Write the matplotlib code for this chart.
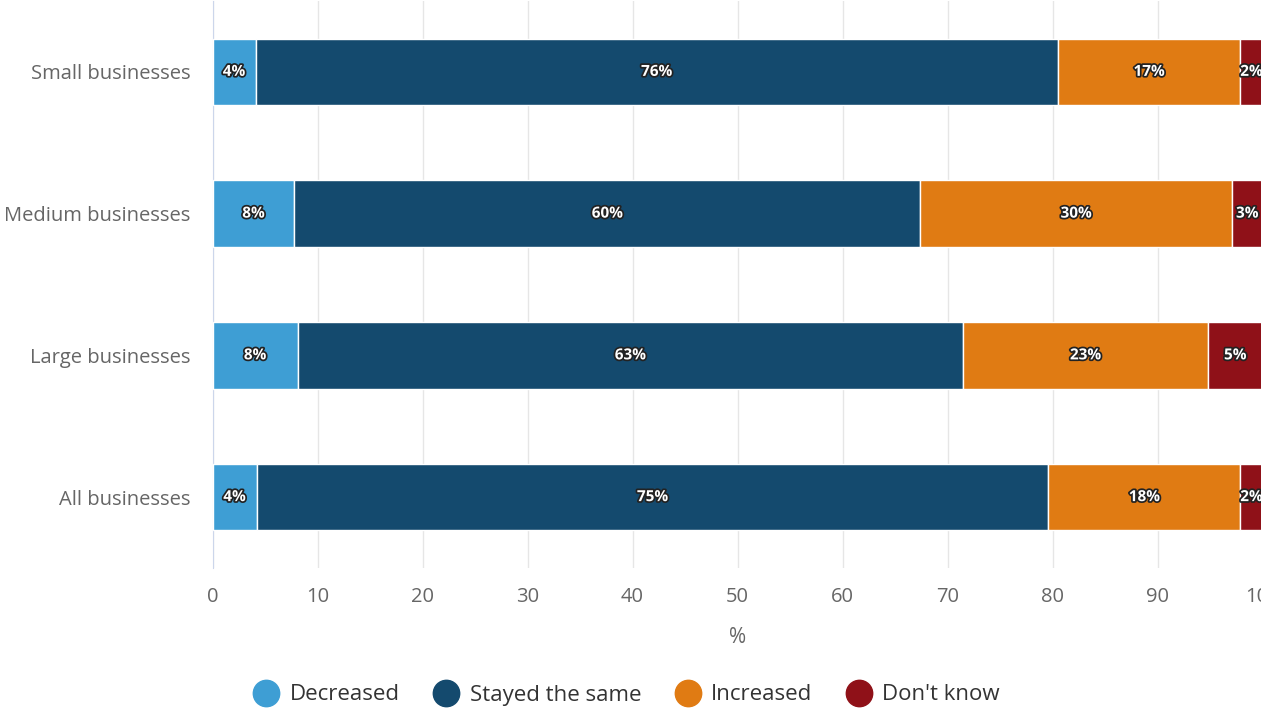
import matplotlib.pyplot as plt
import matplotlib.patheffects as pe
from matplotlib.lines import Line2D
import numpy as np

plt.rcParams['font.family'] = ['Open Sans', 'DejaVu Sans']

categories = ['Small businesses', 'Medium businesses', 'Large businesses', 'All businesses']
series = ['Decreased', 'Stayed the same', 'Increased', "Don't know"]
decreased = [4.1, 7.8, 8.1, 4.2]
stayed = [76.4, 59.6, 63.4, 75.4]
increased = [17.4, 29.7, 23.3, 18.3]
dont_know = [2.1, 2.9, 5.2, 2.1]
colors = ['#3e9ed4', '#144a6e', '#e07b13', '#8f1118']
xticks = [0, 10, 20, 30, 40, 50, 60, 70, 80, 90, 100]

values = [decreased, stayed, increased, dont_know]

fig = plt.figure(figsize=(12.61, 7.11), dpi=100)
ax = fig.add_axes([212.5 / 1261, 1 - 568 / 711, 1050 / 1261, 567 / 711])

y = np.arange(len(categories))
left = np.zeros(len(categories))
for name, vals, col in zip(series, values, colors):
    vals = np.array(vals)
    ax.barh(y, vals, left=left, height=0.47, color=col, edgecolor='white',
            linewidth=1, zorder=3)
    for yi, l, v in zip(y, left, vals):
        ax.text(l + v / 2, yi, f'{round(v)}%', ha='center', va='center',
                color='white', fontsize=11, fontweight='bold', zorder=5,
                path_effects=[pe.withStroke(linewidth=2.5, foreground='#222222')])
    left = left + vals

ax.set_xlim(0, 100)
ax.set_ylim(len(categories) - 0.5, -0.5)
ax.set_yticks(y)
ax.set_yticklabels(categories)
ax.set_xticks(xticks)
ax.tick_params(axis='both', length=0, colors='#666666', labelsize=14.5)
ax.tick_params(axis='x', pad=14)
ax.tick_params(axis='y', pad=16)
for lbl in ax.get_xticklabels() + ax.get_yticklabels():
    lbl.set_color('#666666')
ax.grid(axis='x', color='#e6e6e6', linewidth=1, zorder=0)
for s in ['top', 'right', 'bottom']:
    ax.spines[s].set_visible(False)
ax.spines['left'].set_color('#ccd6eb')
ax.set_xlabel('%', fontsize=15, color='#666666', labelpad=14)

handles = [Line2D([0], [0], marker='o', color='none', markerfacecolor=c,
                  markeredgecolor=c, markersize=19) for c in colors]
fig.legend(handles, series, loc='center', bbox_to_anchor=(622 / 1261, 1 - 695 / 711),
           ncol=4, frameon=False, fontsize=16, handletextpad=0.05, columnspacing=1.1,
           labelcolor='#333333')

fig.savefig('out.png', dpi=100)
